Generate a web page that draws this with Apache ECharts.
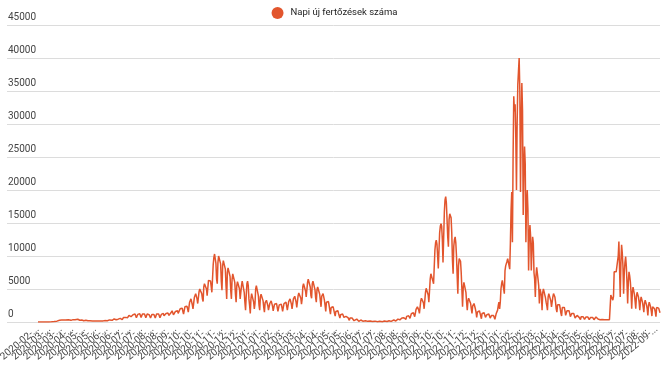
<!DOCTYPE html>
<html><head><meta charset="utf-8">
<script src="https://cdn.jsdelivr.net/npm/echarts@6/dist/echarts.min.js"></script>
<style>html,body{margin:0;padding:0;background:#fff}#c{width:669px;height:385px}</style>
</head><body><div id="c"></div>
<script>
// ---- data ----
const seriesName = 'Napi új fertőzések száma';
const startDate = '2020-02-26';
const yMin = 0, yMax = 45000, yStep = 5000;
const labelEvery = 17; // one date label every 17 days

// daily values, 2020-02-26 .. 2021-02-09
const casesPart1 = [
1,0,2,0,0,0,1, 0,1,3,2,3,1,2, 8,15,10,24,6,20,28, 45,30,60,65,70,145,170,
130,190,260,250,270,190,230, 290,280,380,310,260,190,320, 330,340,360,350,320,290,290,
250,380,520,360,310,270,330, 260,410,380,420,290,200,260, 190,370,300,240,270,190,230,
180,260,300,230,190,160,150, 190,260,210,200,170,130,140, 150,180,180,150,140,120,110,
130,170,190,190,170,140,140, 160,210,220,250,240,200,180, 230,320,300,320,300,250,220,
330,460,420,400,350,300,280, 430,560,600,550,500,400,350, 500,700,750,800,700,600,500,
650,900,1000,1100,1000,800,650, 700,1100,1250,1300,1200,900,650, 750,1150,1300,1350,1250,1000,700,
700,1200,1350,1400,1200,900,650, 750,1200,1300,1250,1100,850,600, 700,1150,1300,1350,1150,850,600,
750,1200,1350,1450,1200,900,650, 700,1150,1350,1400,1300,950,700, 800,1300,1500,1500,1350,1000,750,
800,1350,1600,1700,1550,1100,800, 900,1600,1800,1900,1700,1300,1000, 1100,2000,2200,2300,2100,1600,1200,
1200,2300,2500,2600,2400,2000,1500, 1600,3000,3300,3500,3200,2600,2000, 2300,3700,4000,4300,4100,3500,2800,
2900,4600,5000,5100,4900,4300,3500, 3100,5300,5800,5900,5800,5000,4000, 3800,6300,6600,6400,6200,5400,4500,
4800,8700,9800,10300,10000,8900,6500, 5800,9000,10000,10200,9800,8800,6200, 4800,8500,9300,9600,9200,8000,5500,
3500,7500,8200,8400,8000,6900,4800, 3500,6500,7300,7600,7200,6000,4200, 3000,5500,6100,6300,6000,5000,3500,
3300,5500,6200,6400,6000,4500,3000, 1800,4000,5800,6200,5500,3500,2500, 1300,3500,4300,4600,4200,3000,2000,
2800,5000,5500,5700,5200,4000,2500, 1800,3800,4200,4400,4000,3200,2200, 1500,2900,3200,3300,3100,2500,1800,
1500,2800,3100,3200,3000,2400,1700
];
// daily values, 2021-02-10 .. 2022-01-19
const casesPart2 = [
1400,2700,2900,3000,2800,2200,1600, 1300,2600,2800,2900,2700,2200,1600, 1600,2800,3000,3100,3000,2400,1800,
1800,3100,3400,3500,3300,2700,2000, 2000,3500,3800,3900,3700,3000,2200, 2300,4000,4400,4500,4300,3600,2700,
3500,5400,5800,6000,5700,4700,3800, 3800,6000,6500,6700,6400,5300,4000, 3600,5800,6200,6300,5900,4900,3700,
3000,4900,5300,5400,5100,4200,3200, 2300,3900,4200,4300,4000,3300,2500, 1600,3000,3200,3300,3100,2500,1800,
1200,2200,2400,2500,2300,1800,1300, 900,1600,1700,1800,1700,1300,1000, 600,1100,1250,1300,1200,900,700,
400,800,850,900,850,650,450, 250,600,650,700,600,450,300, 200,420,480,500,450,350,250,
100,260,280,300,270,200,130, 80,170,190,200,180,140,100, 50,130,140,150,140,110,70,
40,110,120,130,120,90,60, 40,100,110,120,110,80,60, 50,120,140,150,140,100,70,
80,170,190,200,190,140,100, 100,250,280,300,280,220,150, 200,380,430,450,420,330,250,
250,600,670,700,650,520,350, 400,850,950,1000,950,750,550, 600,1250,1400,1500,1400,1100,800,
1000,1900,2200,2300,2200,1800,1300, 1500,3200,3600,3800,3600,2900,2000, 2300,4500,5100,5300,5000,4100,3000,
3300,6500,7300,7600,7200,6200,5800, 5800,10900,12000,12400,11800,10000,8100, 7800,13500,14500,14900,14500,12500,9000,
9000,16700,18500,19000,18000,15500,12900, 11400,15500,16400,16700,15800,13500,9400, 7300,11500,12500,12900,12000,10000,7000,
4300,8500,9600,9900,9200,7500,5000, 2300,5200,6000,6300,5800,4500,3000, 1800,3200,3600,3800,3500,2800,2000,
1300,2400,2700,2800,2600,2000,1500, 700,1500,1700,1800,1700,1300,900, 500,1300,1450,1500,1400,1100,700,
400,1100,1250,1300,1200,900,600, 300,1000,1100,1200,1000,700,400, 400,1300,1500,1800,2500,3000,2000,
3000,5000,5800,6300,6000,5000,4300
];
// daily values, 2022-01-20 .. 2022-03-16
const casesPart3 = [
7800,8500,8800,9200,9600,9900,9700,8000,
12000,17000,19700,12100,
25000,34200,31900,33000,28000,20000,
30000,36000,38000,40000,35000,19700,
30000,36200,32000,16200,
23000,26600,24000,12100,
18000,20000,17000,7800,
13000,14700,13000,7800,
11000,12900,12000,7500,6500,3800,
7000,8300,8000,6500,5500,2800,
5000,5300,4000,1800
];
// daily values, 2022-03-17 .. 2022-09-06
const casesPart4 = [
4500,5000,5000,4700,3700,3000,2500, 1800,3800,4300,4300,4000,3200,2300, 2500,3800,4300,4200,3800,3000,2000,
1500,2600,2800,2800,2600,2000,1300, 900,2200,2400,2400,2200,1700,1000, 770,1700,1900,1900,1700,1300,800,
700,1300,1500,1500,1300,1000,600, 400,900,1000,1000,900,700,450, 350,800,900,900,800,600,400,
350,750,850,850,750,550,350, 300,700,800,800,700,500,350, 300,650,750,750,650,450,300,
250,350,400,400,380,300,250, 250,350,380,400,350,300,250,
250,350,400,4100,3800,3800,3300, 3900,7600,7700,7500,7600,7400,7600, 10000,12200,8000,3800,9000,11700,10500,
8500,4300,7500,9000,9900,8500,6000, 2800,6000,7600,7000,6100,4500,2000, 4500,5300,5000,4200,3200,2000,3800,
4500,4200,3800,3000,1800,3200,3800, 3500,3000,2300,1500,2800,3300,3100, 2600,2000,1000,2500,3000,2800,2300,
1700,900,2300,2600,2400,2000,1500, 800,2200,2500,2300,2100,1900,1400
];

const cases = casesPart1.concat(casesPart2, casesPart3, casesPart4);

// category labels: consecutive days starting at startDate
const dates = [];
{
  const t0 = Date.parse(startDate + 'T00:00:00Z');
  for (let i = 0; i < cases.length; i++) {
    dates.push(new Date(t0 + i * 86400000).toISOString().slice(0, 10));
  }
}
// indices of the categories that carry a label
const labelIdx = dates.map((d, i) => i).filter(i => i % labelEvery === 0);

// ---- chart ----
const FONT = 'Roboto, Arial, sans-serif';
const chart = echarts.init(document.getElementById('c'), null, {renderer: 'canvas'});
chart.setOption({
  animation: false,
  backgroundColor: '#ffffff',
  textStyle: {fontFamily: FONT},
  legend: {
    top: 2, left: 'center', icon: 'circle', itemWidth: 12, itemHeight: 12, itemGap: 6,
    textStyle: {fontSize: 9.5, color: '#222', fontFamily: FONT, padding: [0, 0, 0, 2]},
    data: [seriesName]
  },
  grid: [
    {left: 7, right: 9, top: 25, bottom: 63, outerBoundsMode: 'none'},
    {left: 38, right: 9, top: 25, bottom: 63, outerBoundsMode: 'none'}
  ],
  xAxis: [
    {gridIndex: 0, type: 'value', min: 0, max: 1, show: false},
    {
      gridIndex: 1, type: 'category', data: dates, boundaryGap: false,
      axisLine: {show: false}, axisTick: {show: false}, axisLabel: {show: false}
    }
  ],
  yAxis: [
    {
      gridIndex: 0, type: 'value', min: yMin, max: yMax, interval: yStep,
      axisLine: {show: false}, axisTick: {show: false},
      splitLine: {show: true, lineStyle: {color: '#dcdcdc', width: 1}},
      axisLabel: {
        inside: true, align: 'left', verticalAlign: 'bottom', margin: 1,
        padding: [0, 0, 3, 0], fontSize: 10, color: '#444', fontFamily: FONT,
        formatter: function (v) { return String(v); }
      }
    },
    {gridIndex: 1, type: 'value', min: yMin, max: yMax, interval: yStep, show: false, splitLine: {show: false}}
  ],
  series: [
    {
      name: seriesName, type: 'line', xAxisIndex: 1, yAxisIndex: 1,
      data: cases, showSymbol: false, symbol: 'circle', symbolSize: 12,
      sampling: null,
      itemStyle: {color: '#e2552d'},
      lineStyle: {color: '#e2552d', width: 1.5}
    },
    {
      // slanted date labels under the axis, placed through the category scale
      name: 'dateLabels', type: 'custom', xAxisIndex: 1, yAxisIndex: 1,
      clip: false, silent: true, z: 5,
      data: labelIdx.map(i => [i, 0]),
      renderItem: function (params, api) {
        const i = api.value(0);
        const p = api.coord([i, 0]);
        return {
          type: 'text', x: p[0], y: p[1] + 6, rotation: 40 * Math.PI / 180,
          style: {
            text: dates[i], align: 'right', verticalAlign: 'middle',
            fill: '#444', font: '10px ' + FONT,
            width: 49, overflow: 'truncate', ellipsis: '...'
          }
        };
      }
    }
  ]
});
</script>
</body></html>
